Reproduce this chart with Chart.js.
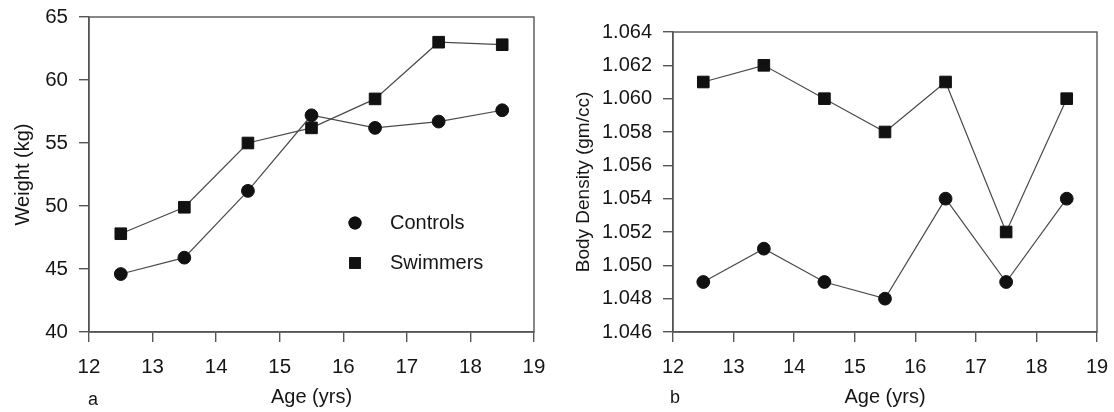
<!DOCTYPE html>
<html>
<head>
<meta charset="utf-8">
<script src="https://cdn.jsdelivr.net/npm/chart.js@4"></script>
<style>
  html, body { margin: 0; padding: 0; background: #fff; }
  #wrap { position: relative; width: 1114px; height: 412px; }
  canvas { position: absolute; top: 0; }
  #cA { left: 0; }
  #cB { left: 557px; }
</style>
</head>
<body>
<div id="wrap">
  <canvas id="cA" width="557" height="412"></canvas>
  <canvas id="cB" width="557" height="412"></canvas>
</div>
<script>
// Age groups (mid-points, years)
const ages = [12.5, 13.5, 14.5, 15.5, 16.5, 17.5, 18.5];

// Panel a: body weight (kg)
const weightControls = [44.6, 45.9, 51.2, 57.2, 56.2, 56.7, 57.6];
const weightSwimmers = [47.8, 49.9, 55.0, 56.2, 58.5, 63.0, 62.8];

// Panel b: body density (gm/cc)
const densityControls = [1.049, 1.051, 1.049, 1.048, 1.054, 1.049, 1.054];
const densitySwimmers = [1.061, 1.062, 1.060, 1.058, 1.061, 1.052, 1.060];

// Axis ranges and labels
const ageRange = [12, 19];
const weightRange = [40, 65];
const densityRange = [1.046, 1.064];
const seriesNames = ['Controls', 'Swimmers'];
const axisTitles = { age: 'Age (yrs)', weight: 'Weight (kg)', density: 'Body Density (gm/cc)' };
const panelLetters = ['a', 'b'];

const FONT = '"Liberation Sans", Arial, sans-serif';
const INK = '#151515';
const AXIS = '#555555';
const LINE = '#4a4a4a';

const points = (ys) => ages.map((x, i) => ({ x, y: ys[i] }));

function seriesSet(ctrl, swim) {
  return [
    { label: seriesNames[0], data: points(ctrl), pointStyle: 'circle', pointRadius: 6.4,
      borderColor: LINE, borderWidth: 1.2, pointBackgroundColor: '#111', pointBorderColor: '#111',
      pointBorderWidth: 1, showLine: true, tension: 0 },
    { label: seriesNames[1], data: points(swim), pointStyle: 'rect', pointRadius: 8.2,
      borderColor: LINE, borderWidth: 1.2, pointBackgroundColor: '#111', pointBorderColor: '#111',
      pointBorderWidth: 1, showLine: true, tension: 0 }
  ];
}

// Closes the plot box (top and right edges)
const frame = {
  id: 'frame',
  beforeDatasetsDraw(chart) {
    const { ctx, chartArea: a } = chart;
    ctx.save();
    ctx.strokeStyle = AXIS;
    ctx.lineWidth = 1.4;
    ctx.strokeRect(a.left, a.top, a.right - a.left, a.bottom - a.top);
    ctx.restore();
  }
};

// Panel letter under the x axis
const letter = {
  id: 'letter',
  afterDraw(chart, args, opts) {
    const { ctx } = chart;
    ctx.save();
    ctx.fillStyle = INK;
    ctx.font = '18px ' + FONT;
    ctx.textAlign = 'center';
    ctx.textBaseline = 'alphabetic';
    ctx.fillText(opts.text, opts.x, opts.y);
    ctx.restore();
  }
};

// Symbol key drawn inside the plot of panel a
const keyBox = {
  id: 'keyBox',
  afterDraw(chart, args, opts) {
    if (!opts.show) return;
    const { ctx } = chart;
    chart.data.datasets.forEach((ds, i) => {
      const y = opts.y + i * opts.gap;
      ctx.save();
      ctx.fillStyle = '#111';
      Chart.helpers.drawPoint(ctx, {
        pointStyle: ds.pointStyle, radius: ds.pointStyle === 'rect' ? 8.2 : 6.5,
        borderWidth: 0, rotation: 0
      }, opts.x, y);
      ctx.fill();
      ctx.fillStyle = INK;
      ctx.font = '20px ' + FONT;
      ctx.textAlign = 'left';
      ctx.textBaseline = 'middle';
      ctx.fillText(ds.label, opts.textX, y);
      ctx.restore();
    });
  }
};

function makeChart(id, cfg) {
  return new Chart(document.getElementById(id), {
    type: 'scatter',
    data: { datasets: seriesSet(cfg.ctrl, cfg.swim) },
    plugins: [frame, letter, keyBox],
    options: {
      responsive: false,
      animation: false,
      devicePixelRatio: 1,
      layout: { padding: { top: cfg.padTop, right: cfg.padRight, left: 0, bottom: 0 } },
      plugins: {
        legend: { display: false },
        tooltip: { enabled: false },
        letter: cfg.letter,
        keyBox: cfg.key
      },
      scales: {
        x: {
          type: 'linear', min: ageRange[0], max: ageRange[1],
          afterFit(s) {
            s.height = 412 - cfg.bottom;
            // end labels already fit inside the layout padding
            s.paddingLeft = 0;
            s.paddingRight = 0;
          },
          grid: { drawOnChartArea: false, drawTicks: true, tickLength: 10, color: AXIS, lineWidth: 1.4 },
          border: { color: AXIS, width: 1.4 },
          ticks: { stepSize: 1, padding: 13, color: INK, font: { family: FONT, size: cfg.tickSize } },
          title: { display: true, text: axisTitles.age, color: INK,
                   font: { family: FONT, size: 20 }, padding: { top: 0, bottom: 3 } }
        },
        y: {
          type: 'linear', min: cfg.yRange[0], max: cfg.yRange[1],
          afterFit(s) {
            s.width = cfg.left;
            s.paddingTop = 0;
            s.paddingBottom = 0;
          },
          grid: { drawOnChartArea: false, drawTicks: true, tickLength: 10, color: AXIS, lineWidth: 1.4 },
          border: { color: AXIS, width: 1.4 },
          ticks: { stepSize: cfg.step, padding: 11, color: INK,
                   font: { family: FONT, size: cfg.tickSize },
                   callback: cfg.fmt },
          title: { display: true, text: cfg.yTitle, color: INK,
                   font: { family: FONT, size: cfg.titleSize }, padding: { top: cfg.titlePad, bottom: 0 } }
        }
      }
    }
  });
}

makeChart('cA', {
  ctrl: weightControls, swim: weightSwimmers,
  yRange: weightRange, step: 5, fmt: (v) => v,
  yTitle: axisTitles.weight, titleSize: 20, titlePad: 11,
  tickSize: 20.5, left: 89, padTop: 17, padRight: 23, bottom: 332,
  letter: { text: panelLetters[0], x: 93, y: 405 },
  key: { show: true, x: 355, y: 223, gap: 40, textX: 390 }
});

makeChart('cB', {
  ctrl: densityControls, swim: densitySwimmers,
  yRange: densityRange, step: 0.002, fmt: (v) => v.toFixed(3),
  yTitle: axisTitles.density, titleSize: 19, titlePad: 15,
  tickSize: 20, left: 116, padTop: 32, padRight: 17, bottom: 332,
  letter: { text: panelLetters[1], x: 118, y: 403 },
  key: { show: false }
});
</script>
</body>
</html>
